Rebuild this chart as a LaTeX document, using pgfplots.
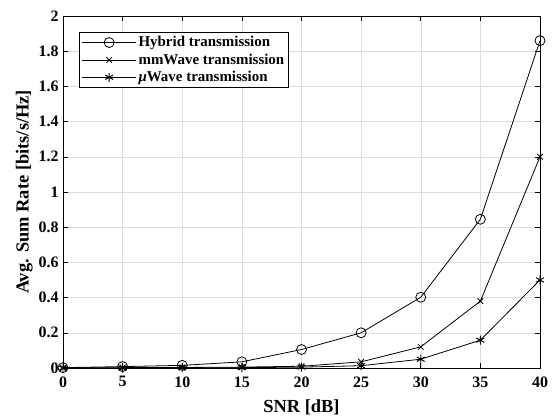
\documentclass[border=0pt]{standalone}
\usepackage{pgfplots}
\pgfplotsset{compat=1.18}
\usepackage{fontspec}
\setmainfont{Liberation Serif}
\begin{document}
\begin{tikzpicture}
\begin{axis}[
  scale only axis,
  width=477bp, height=352bp,
  xmin=0, xmax=40, ymin=0, ymax=2,
  xtick={0,5,...,40},
  ytick={0,0.2,...,2},
  /pgf/number format/assume math mode=true,
  ticklabel style={font=\fontsize{16}{18}\selectfont\bfseries},
  yticklabel style={/pgf/number format/fixed, xshift=-1bp},
  xticklabel style={yshift=-5bp},
  label style={font=\fontsize{18.5}{20}\selectfont\bfseries},
  xlabel={SNR [dB]},
  ylabel={Avg. Sum Rate [bits/s/Hz]},
  xlabel style={yshift=-6bp},
  ylabel style={yshift=-1bp},
  grid=major,
  major grid style={color=black!13, line width=0.5pt},
  tick align=inside,
  tick pos=both,
  major tick length=5bp,
  axis line style={line width=0.6pt},
  every tick/.style={black, line width=0.6pt},
  legend style={at={(rel axis cs:0.0335,0.955)}, anchor=north west,
    font=\fontsize{15}{17}\selectfont\bfseries, draw=black, line width=0.6pt,
    row sep=1.5bp, inner sep=2.5bp},
  legend image code/.code={\draw[mark repeat=2,mark phase=2] plot coordinates {(0bp,0bp) (27bp,0bp) (54bp,0bp)};},
  legend cell align=left,
  every axis plot/.append style={line width=0.8pt, black},
]
\addplot[mark=o, mark size=5bp, mark options={line width=0.8pt}] coordinates {
 (0,0.002) (5,0.008) (10,0.015) (15,0.035) (20,0.105) (25,0.2) (30,0.402) (35,0.845) (40,1.86)};
\addlegendentry{Hybrid transmission}
\addplot[mark=x, mark size=4bp, mark options={line width=0.8pt}] coordinates {
 (0,0.0) (5,0.002) (10,0.003) (15,0.005) (20,0.01) (25,0.035) (30,0.12) (35,0.38) (40,1.2)};
\addlegendentry{mmWave transmission}
\addplot[mark=asterisk, mark size=4.5bp, mark options={line width=1pt}] coordinates {
 (0,0.0) (5,0.0) (10,0.001) (15,0.002) (20,0.005) (25,0.013) (30,0.05) (35,0.158) (40,0.5)};
\addlegendentry{\textit{μ}Wave transmission}
\end{axis}
\path (current axis.south west) ++(-63bp,-50bp) rectangle ++(554bp,418bp);
\end{tikzpicture}
\end{document}
